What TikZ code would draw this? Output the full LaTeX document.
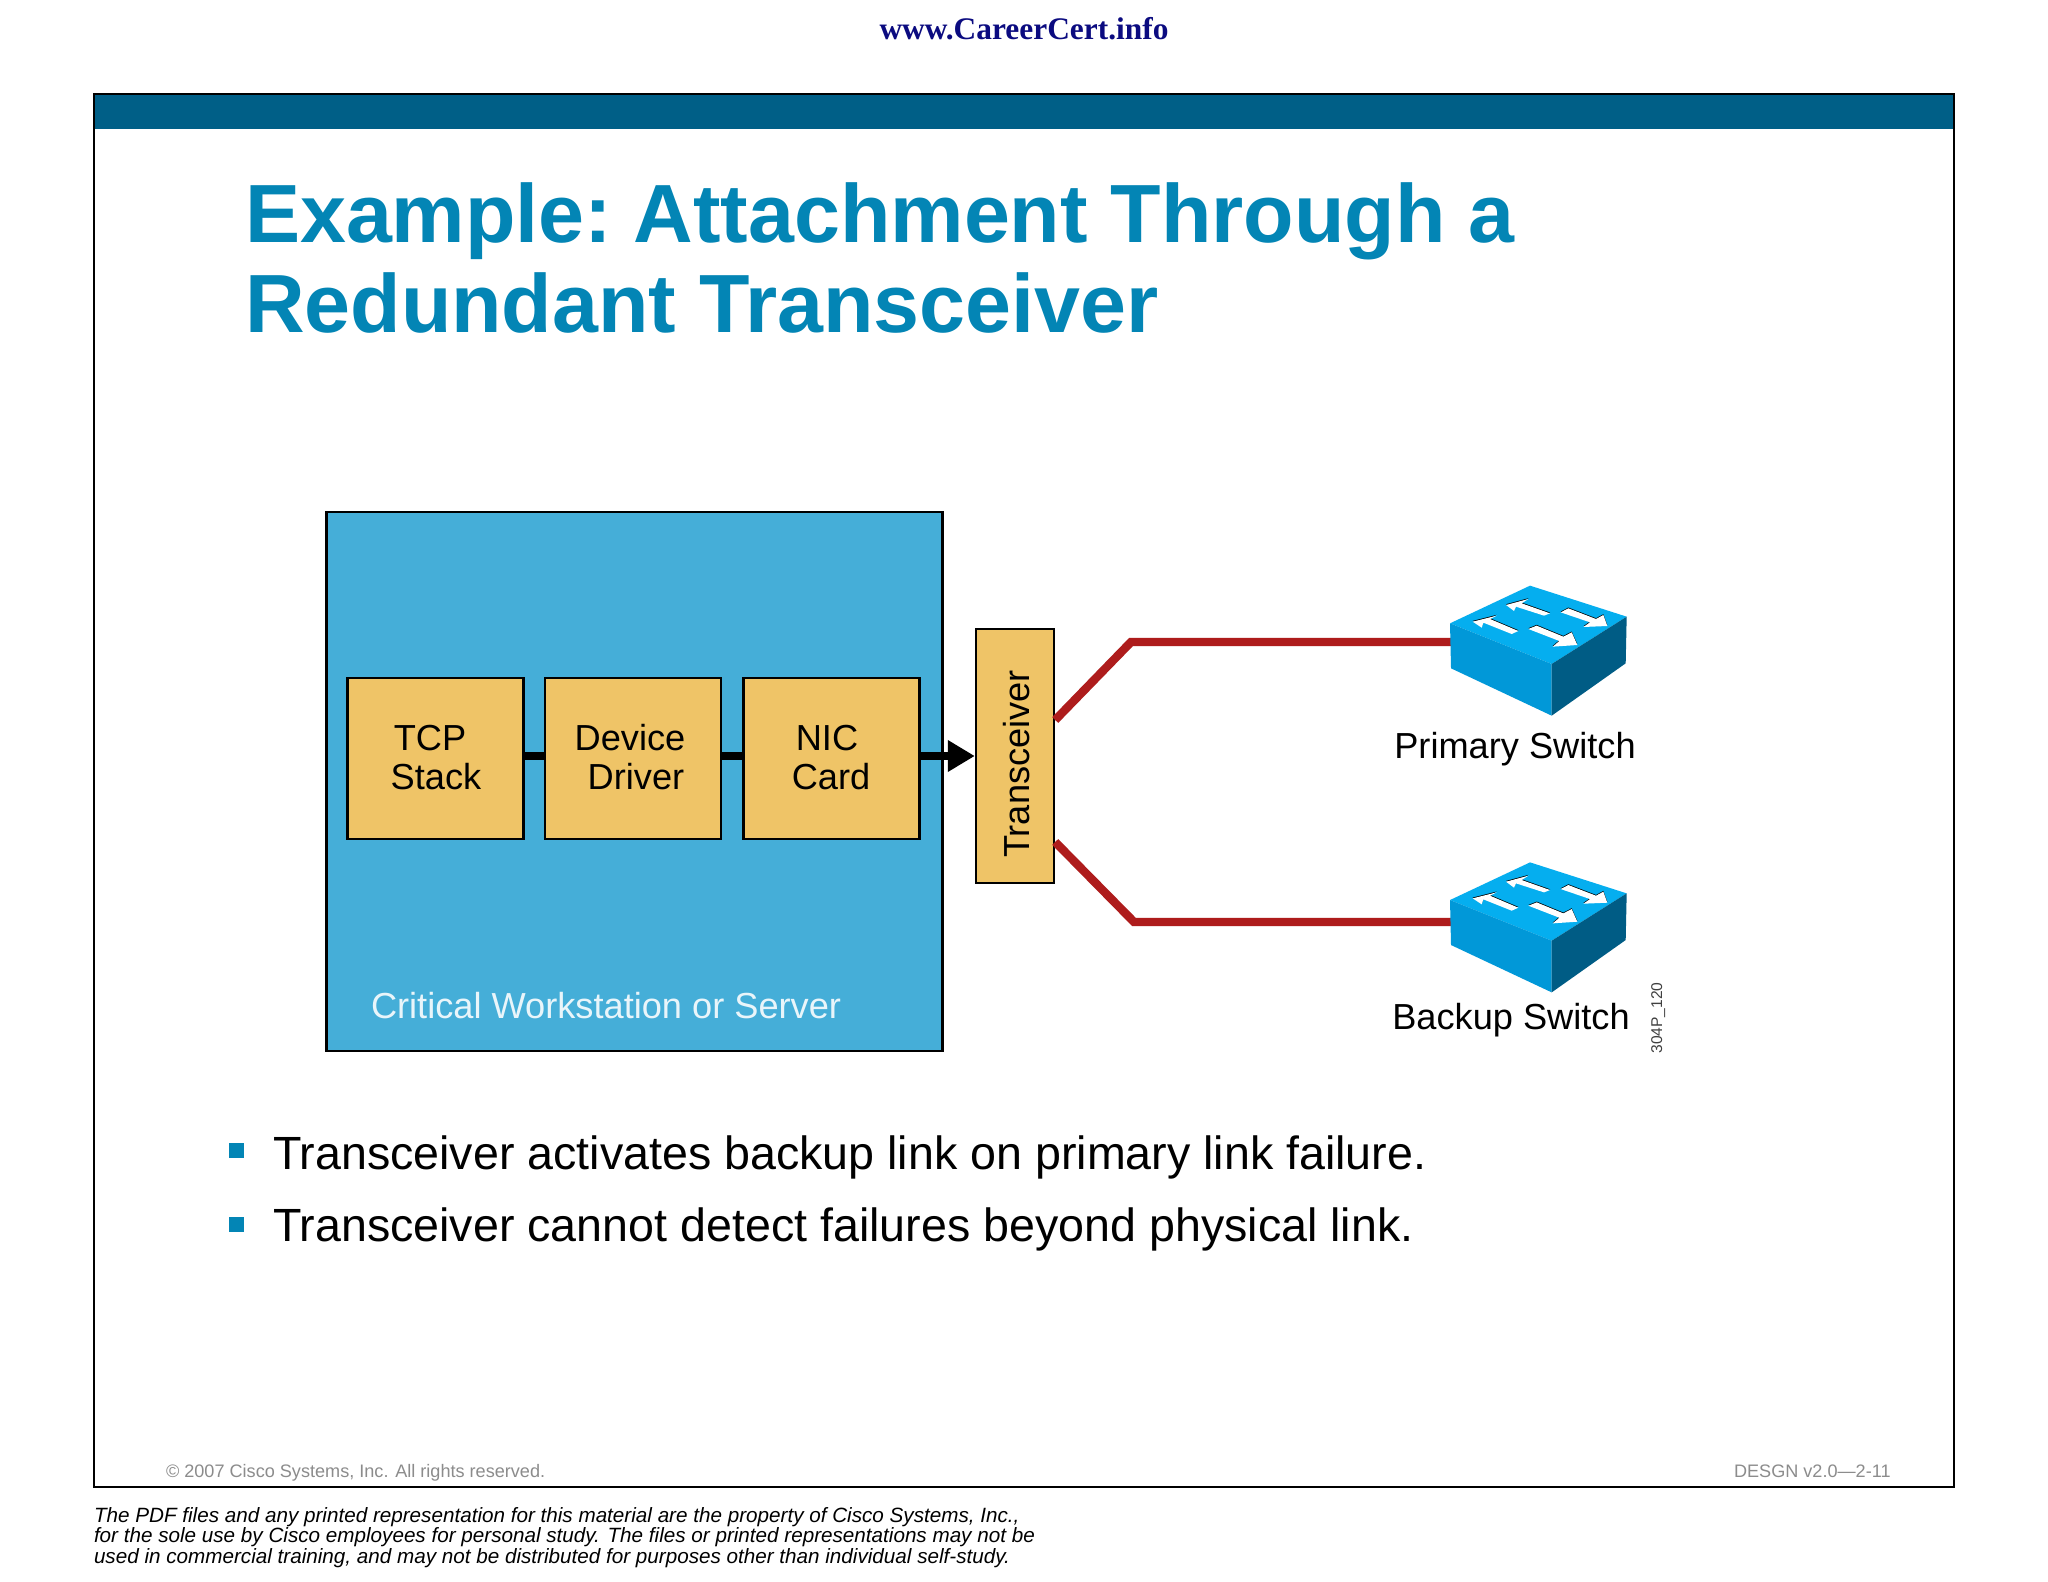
\documentclass[tikz,border=0pt]{standalone}
\usepackage{fontspec}
\setmainfont{Liberation Sans}
\newfontfamily\serifweb{Liberation Serif}
\usetikzlibrary{arrows.meta}
\definecolor{bandc}{HTML}{005F87}
\definecolor{titlec}{HTML}{0385B5}
\definecolor{hostc}{HTML}{45AED8}
\definecolor{yellowc}{HTML}{EFC467}
\definecolor{redc}{HTML}{AE1C1C}
\definecolor{swtop}{HTML}{05AEEF}
\definecolor{swfront}{HTML}{0198D8}
\definecolor{swside}{HTML}{005C85}
\definecolor{grayc}{HTML}{8C8C8C}
\definecolor{navyc}{HTML}{0B0B80}
\tikzset{
  txt/.style={anchor=base west,inner sep=0pt,outer sep=0pt},
  txtc/.style={anchor=base,inner sep=0pt,outer sep=0pt},
  block/.style={draw=black,fill=yellowc,line width=1.2pt,minimum width=88pt,minimum height=80.5pt,inner sep=0pt},
  labelf/.style={font=\fontsize{18.1}{18.1}\selectfont,text=black},
  bulletf/.style={font=\fontsize{23.3}{23.3}\selectfont,text=black},
  smallf/.style={font=\fontsize{9.05}{9.05}\selectfont,text=grayc},
  footf/.style={font=\fontsize{10.33}{10.33}\selectfont\itshape,text=black},
  titlef/.style={font=\fontsize{41.3}{41.3}\selectfont\bfseries,text=titlec},
  link/.style={line width=3.6pt,draw=black},
  redlink/.style={line width=4.2pt,draw=redc,line join=miter},
  bulletbox/.style={fill=titlec,minimum size=7.5pt,inner sep=0pt}
}
\newcommand{\swharrow}[1]{%
  \fill[black,yshift=0.4pt] #1 --cycle;
  \fill[white] #1 --cycle;}
\newcommand{\switchicon}[1]{%
  \begin{scope}[shift={(1380,#1)},x=0.16667pt,y=-0.16667pt]
    \fill[swtop] (450,77)--(740,170)--(515,312)--(210,190)--cycle;
    \fill[swfront] (210,190)--(515,312)--(515,467)--(213,325)--cycle;
    \fill[swside] (515,312)--(740,170)--(737,310)--(515,467)--cycle;
    \swharrow{(378,135)--(445,117)--(425,130)--(510,160)--(492,167)--(408,140)--(402,153)}
    \swharrow{(278,185)--(350,167)--(330,177)--(415,213)--(395,222)--(310,188)--(305,203)}
    \swharrow{(565,145)--(648,177)--(670,165)--(682,198)--(610,201)--(630,187)--(542,157)}
    \swharrow{(470,197)--(550,230)--(575,217)--(592,255)--(518,260)--(538,243)--(445,207)}
  \end{scope}}
\begin{document}
\begin{tikzpicture}[x=0.5pt,y=-0.5pt]
\useasboundingbox (0,0) rectangle (2048,1582);
\fill[white] (0,0) rectangle (2048,1582);
\node[txtc,font=\fontsize{15.7}{15.7}\selectfont\serifweb\bfseries,text=navyc] (web) at (1024,40) {www.CareerCert.info};
% frame
\fill[bandc] (94,94) rectangle (1954,129);
\draw[black,line width=1.4pt] (94,94) rectangle (1954,1487);
% title
\node[txt,titlef] (t1) at (245,243) {Example:\hspace{-4.6pt} Attachment Through a};
\node[txt,titlef] (t2) at (245,333) {Redundant Transceiver};
% host
\node[draw=black,fill=hostc,line width=1.2pt,minimum width=308pt,minimum height=269.5pt,inner sep=0pt] (host) at (634.5,781.5) {};
\node[block] (tcp) at (435.5,758.5) {};
\node[block] (dev) at (633,758.5) {};
\node[block] (nic) at (831.5,758.5) {};
\node[draw=black,fill=yellowc,line width=1.2pt,minimum width=39pt,minimum height=127pt,inner sep=0pt] (xcvr) at (1015,756) {};
\draw[link] ([yshift=1.25pt]tcp.east) -- ([yshift=1.25pt]dev.west);
\draw[link] ([yshift=1.25pt]dev.east) -- ([yshift=1.25pt]nic.west);
\draw[link,-{Triangle[length=13.5pt,width=15pt]}] ([yshift=1.25pt]nic.east) -- (xcvr.west);
\node[txtc,labelf] (l1) at (430,750) {TCP};
\node[txtc,labelf] (l2) at (436,789) {Stack};
\node[txtc,labelf] (l3) at (630,750) {Device};
\node[txtc,labelf] (l4) at (636,789) {Driver};
\node[txtc,labelf] (l5) at (827,750) {NIC};
\node[txtc,labelf] (l6) at (831,789) {Card};
\node[txtc,labelf,rotate=90] (l7) at (1029,764) {Transceiver};
\node[txt,labelf,text=white!88!hostc] (l8) at (371,1018) {Critical Workstation or Server};
% red links
\coordinate (sw1) at (1452,642);
\coordinate (sw2) at (1452,922);
\draw[redlink] ([yshift=18pt]xcvr.east) -- (1131,642) -- (sw1);
\draw[redlink] ([yshift=-43pt]xcvr.east) -- (1134,922) -- (sw2);
\switchicon{560}
\switchicon{836.7}
\node[txtc,labelf] (l9) at (1515,758) {Primary Switch};
\node[txtc,labelf] (l10) at (1511,1029) {Backup Switch};
\node[txtc,font=\fontsize{7.8}{7.8}\selectfont,text=black!75,rotate=90] (l11) at (1662,1018) {304P\_120};
% bullets
\node[bulletbox] (b1) at (236.5,1150) {};
\node[bulletbox] (b2) at (236.5,1224) {};
\node[txt,bulletf] (bt1) at (273,1169) {Transceiver activates backup link on primary link failure.};
\node[txt,bulletf] (bt2) at (273,1241) {Transceiver cannot detect failures beyond physical link.};
% footer
\node[txt,smallf] (c1) at (166,1477) {© 2007 Cisco Systems, Inc. All rights reserved.};
\node[anchor=base east,inner sep=0pt,smallf] (c2) at (1891,1477) {DESGN v2.0—2-11};
\node[txt,footf] (f1) at (94,1522) {The PDF files and any printed representation for this material are the property of Cisco Systems, Inc.,};
\node[txt,footf] (f2) at (94,1542) {for the sole use by Cisco employees for personal study. The files or printed representations may not be};
\node[txt,footf] (f3) at (94,1563) {used in commercial training, and may not be distributed for purposes other than individual self-study.};
\end{tikzpicture}
\end{document}
